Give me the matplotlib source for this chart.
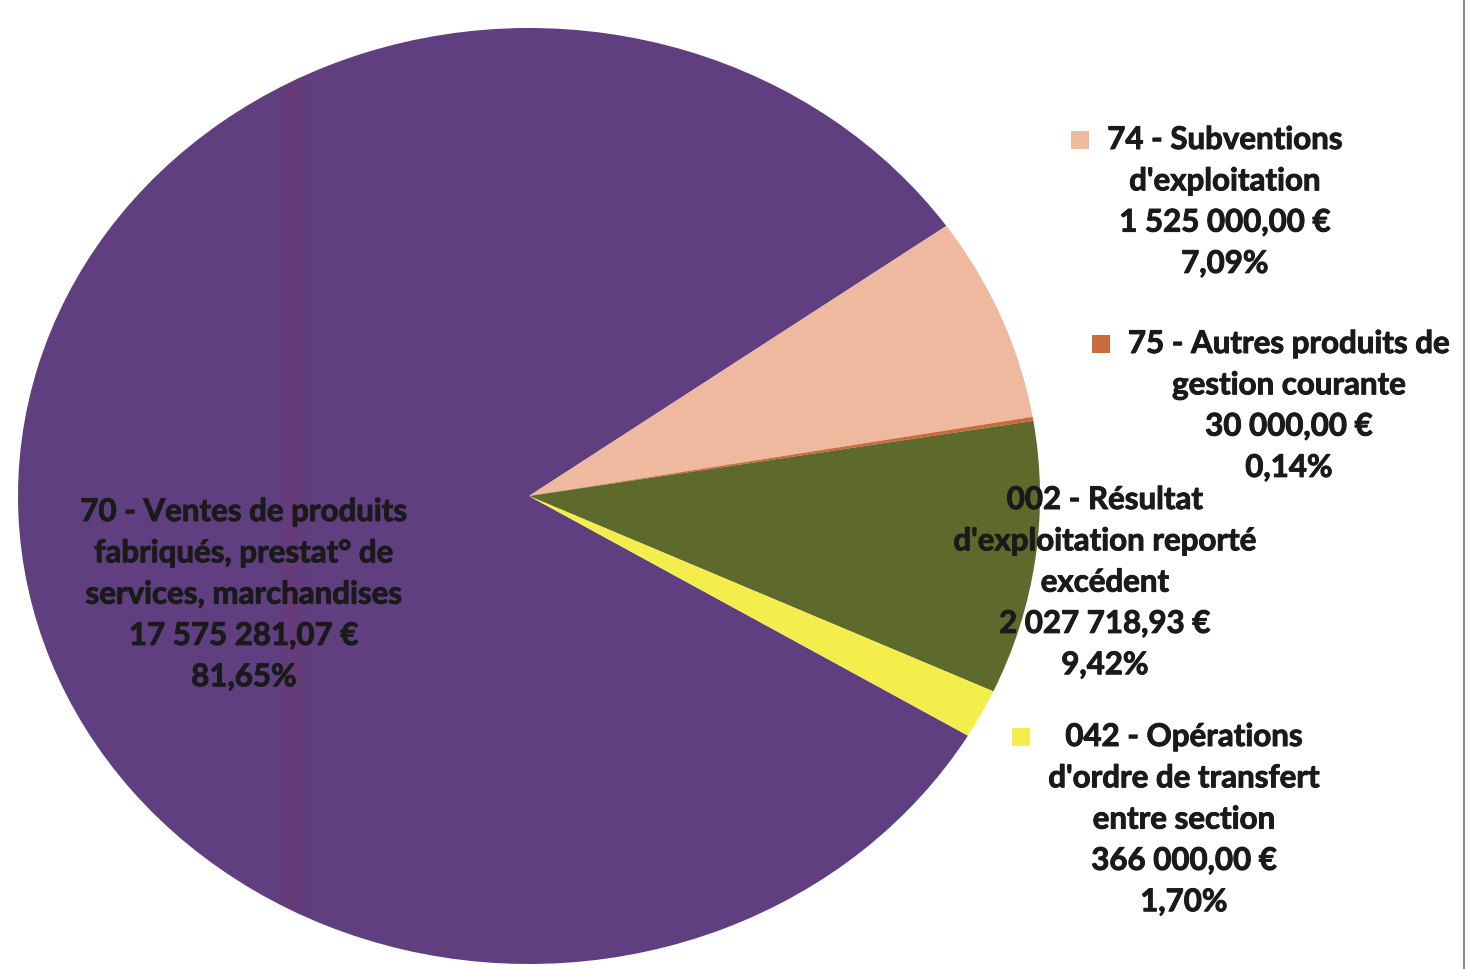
import matplotlib
matplotlib.use('Agg')
import matplotlib.pyplot as plt
import matplotlib.patches as mpatches
import matplotlib.patheffects as pe
from matplotlib.lines import Line2D

# data (Excel order, drawn clockwise)
names = ["70 - Ventes de produits\nfabriqués, prestat° de\nservices, marchandises",
         "74 - Subventions\nd'exploitation",
         "75 - Autres produits de\ngestion courante",
         "002 - Résultat\nd'exploitation reporté\nexcédent",
         "042 - Opérations\nd'ordre de transfert\nentre section"]
amounts = [17575281.07, 1525000.00, 30000.00, 2027718.93, 366000.00]
colors = ['#5f3f80', '#eeb99f', '#c96b3a', '#5e6a2c', '#f3ee4c']

# label layout, in pixels (centre x, first line y from top)
label_pos = [(244, 512), (1225, 140), (1289, 344), (1105, 500), (1184, 737)]
show_key = [False, True, True, False, True]

W, H = 1479, 969
LINE = 41.3
FONT = ['Lato', 'DejaVu Sans']

def fmt_eur(v):
    return f'{v:,.2f}'.replace(',', ' ').replace('.', ',') + ' €'

def fmt_pct(p):
    return f'{p:.2f}'.replace('.', ',') + '%'

fig = plt.figure(figsize=(W/100, H/100), dpi=100)
fig.patch.set_facecolor('white')

# pie is an ellipse in the scan: centre (529, 496), radii 511 x 468 px
cx, cy, rx, ry = 529, 496, 511, 468
ax = fig.add_axes([(cx-rx)/W, (H-(cy+ry))/H, 2*rx/W, 2*ry/H])
wedges, _ = ax.pie(amounts, colors=colors, startangle=-30.8, counterclock=False,
                   wedgeprops=dict(linewidth=0.6, edgecolor='none'))
ax.set_aspect('auto')
ax.set_xlim(-1, 1)
ax.set_ylim(-1, 1)
ax.axis('off')

# faint scanner stripe across the big slice (soft edges)
for a, b, al in [(280, 306, 0.07), (285, 301, 0.08), (289, 297, 0.08)]:
    s = ax.axvspan((a-cx)/rx, (b-cx)/rx, color='#8a2f62', alpha=al, lw=0)
    s.set_clip_path(wedges[0])

total = sum(amounts)
texts = []
thick = [pe.withStroke(linewidth=0.7, foreground='#1a1a1a')]
for i, name in enumerate(names):
    lines = name.split('\n') + [fmt_eur(amounts[i]), fmt_pct(amounts[i]/total*100)]
    x, y0 = label_pos[i]
    group = []
    for j, line in enumerate(lines):
        t = fig.text(x/W, 1-(y0+j*LINE)/H, line, ha='center', va='center',
                     fontsize=22.5, fontweight='bold', family=FONT, color='#1a1a1a',
                     path_effects=thick)
        group.append(t)
    texts.append(group)

# legend keys left of each label block
fig.canvas.draw()
r = fig.canvas.get_renderer()
for i, group in enumerate(texts):
    if not show_key[i]:
        continue
    left = min(t.get_window_extent(r).x0 for t in group)
    x, y0 = label_pos[i]
    ks = 18
    kx = left - 18 - ks
    ky = H - y0 - ks/2
    fig.patches.append(mpatches.Rectangle((kx/W, ky/H), ks/W, ks/H, transform=fig.transFigure,
                                          facecolor=colors[i], edgecolor='none'))

# frame line on the right
fig.add_artist(Line2D([1464/W, 1464/W], [0, 1], transform=fig.transFigure, color='#8c8c8c', lw=1.5))

fig.savefig('out.png', dpi=100)
